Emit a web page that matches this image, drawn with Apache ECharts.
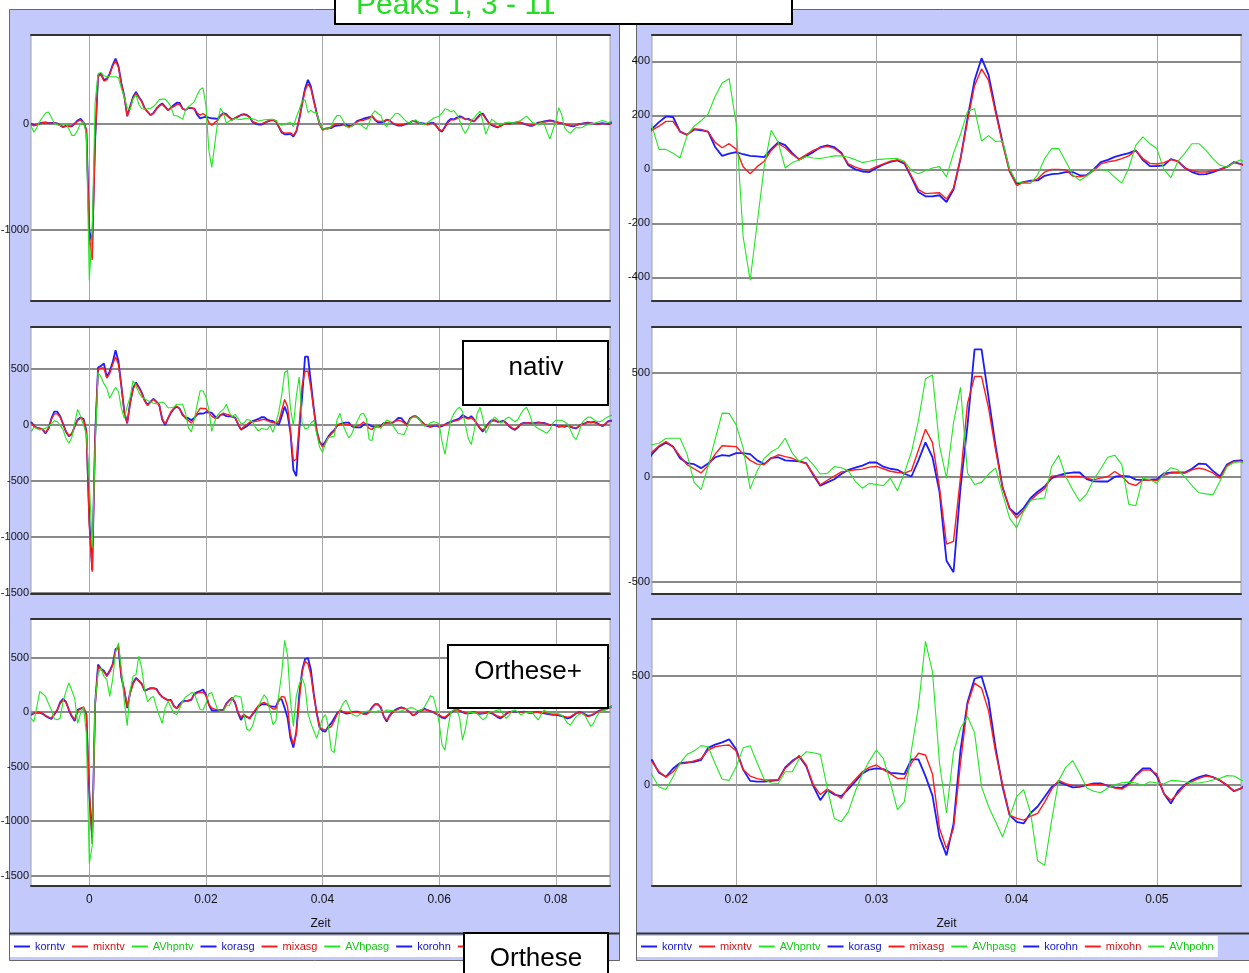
<!DOCTYPE html>
<html>
<head>
<meta charset="utf-8">
<script src="https://cdn.jsdelivr.net/npm/echarts@6/dist/echarts.min.js"></script>
<style>
  html, body { margin: 0; padding: 0; background: #fff; }
  #chart { width: 1249px; height: 973px; }
</style>
</head>
<body>
<div id="chart"></div>
<script>
// Sample times of the recordings: 2 kHz, from -10 ms to 90 ms
const T_START = -0.01, DT = 0.0005, N_SAMPLES = 201;
const zeit = Array.from({ length: N_SAMPLES }, (_, i) => +(T_START + i * DT).toFixed(4));

// ---- nativ ----
const korntv = [
  0,-15,-10,5,10,12,5,8,8,2,
  -15,-30,-20,-25,-25,0,30,45,15,-60,
  -1000,-1130,-150,450,470,410,420,470,550,610,
  540,380,260,70,160,250,297,250,210,145,
  110,80,100,140,170,190,160,125,
  150,175,196,194,140,128,148,145,140,83,
  50,58,64,56,50,48,45,75,100,90,
  60,36,50,64,82,89,82,62,15,0,
  -8,-10,5,18,28,33,21,-30,-84,-100,
  -100,-96,-121,-75,40,190,330,412,350,220,
  100,-4,-53,-47,-42,-41,-24,-18,-16,-10,
  -10,-22,-22,0,27,35,46,54,60,70,
  35,12,12,15,38,30,5,-10,-19,-18,
  -10,0,9,27,19,
  10,5,0,-5,5,10,-20,-60,-75,-30,
  20,45,40,55,70,60,40,45,30,20,
  55,85,95,50,10,-15,-25,-35,-20,-5,
  5,0,5,10,15,10,0,-10,-20,-20,
  -5,10,15,20,25,30,25,15,10,5,
  -5,-15,-20,-25,-15,-5,0,5,10,5,
  0,-5,0,5,0,-5,5,10
];
const mixntv = [
  -10,-20,-10,0,8,10,5,5,5,0,
  -20,-35,-25,-25,-20,0,20,35,10,-60,
  -1050,-1280,-150,440,460,400,410,460,540,590,
  530,370,250,70,150,240,285,245,205,140,
  110,80,95,135,165,180,155,125,
  145,160,178,178,140,128,150,148,140,100,
  80,95,75,10,-16,10,30,70,95,80,
  55,38,55,70,80,85,78,58,20,8,
  0,-2,10,20,30,35,25,-25,-75,-90,
  -88,-87,-110,-70,40,180,310,372,330,210,
  95,-10,-60,-48,-45,-35,-10,0,0,-2,
  -25,-28,-22,-5,20,28,32,40,50,70,
  40,22,20,25,36,30,5,-5,-10,-10,
  -5,0,8,25,20,
  5,0,-5,-10,0,5,-25,-55,-65,-35,
  10,35,35,45,60,55,40,40,25,20,
  45,75,85,45,10,-10,-20,-30,-25,-10,
  0,-5,0,5,10,10,0,-5,-15,-15,
  -5,5,10,15,20,25,20,15,10,5,
  -5,-10,-15,-20,-15,-5,0,5,5,5,
  0,-5,-5,0,0,-5,0,5
];
const AVhpntv = [
  -20,-80,-40,20,60,100,110,60,0,-10,
  -20,0,0,-50,-110,-110,-60,0,20,-100,
  -1470,-1000,200,470,480,450,440,440,440,440,
  430,330,250,150,130,230,270,180,140,135,
  140,145,160,190,225,230,230,200,
  160,74,74,60,42,125,160,180,205,270,
  320,336,170,-250,-411,-200,10,145,100,5,
  25,35,48,42,40,45,50,50,45,36,
  25,30,36,38,40,40,30,-5,-16,-5,
  5,10,-28,60,130,215,225,105,125,103,
  105,0,-47,-52,-52,-20,40,77,77,30,
  -20,-41,-25,0,0,-5,-30,-51,5,90,
  120,95,77,0,-31,30,60,95,95,70,
  40,15,9,25,36,
  10,0,-10,10,30,50,60,70,100,139,
  130,110,123,90,32,-50,-91,-40,30,53,
  90,117,20,-101,-30,43,20,0,-10,0,
  10,15,5,10,20,30,50,70,40,10,
  0,-10,10,0,-80,-144,-60,20,150,90,
  -37,-70,-91,-60,-37,-40,-37,-20,-10,0,
  0,10,20,30,20,10,20,30
];

// ---- asg ----
const korasg = [
  29,-5,-25,-29,-40,-74,-30,60,120,120,
  80,10,-60,-100,-80,-10,50,68,56,-50,
  -838,-1294,-100,515,529,550,430,480,560,668,
  570,350,120,15,200,330,380,340,290,220,
  180,210,235,210,180,50,0,60,
  110,146,165,146,90,67,62,43,65,95,
  105,102,115,115,110,80,62,92,95,80,
  78,75,67,10,-41,-25,-10,15,35,45,
  55,70,70,50,40,35,16,3,80,166,
  95,-70,-400,-455,-50,250,611,611,380,150,
  -50,-150,-180,-148,-100,-70,-45,-5,8,18,
  22,22,-10,-20,-21,-21,2,6,4,-12,
  -14,-12,-10,18,22,22,22,40,65,62,
  30,3,60,78,80,
  60,30,5,-10,-15,-10,-5,-15,-10,5,
  20,30,40,50,60,90,75,60,80,50,
  10,-30,-58,-20,20,43,45,30,30,40,
  20,-10,-30,-43,-20,10,20,20,20,15,
  20,25,20,20,10,0,5,0,-15,-10,
  -15,-5,-15,-25,-29,-10,10,15,29,25,
  29,20,5,-10,10,35,40,40
];
const mixasg = [
  20,-10,-25,-30,-40,-65,-30,50,100,100,
  70,10,-55,-95,-75,-10,45,60,50,-60,
  -900,-1310,-100,500,510,510,420,460,540,610,
  540,340,110,20,190,320,370,330,280,215,
  175,205,230,205,175,60,10,60,
  120,150,170,145,100,60,40,20,55,110,
  150,148,146,110,80,62,60,90,107,98,
  90,75,64,15,-37,-15,5,25,30,35,
  38,48,51,40,28,22,19,32,130,229,
  165,-50,-320,-307,0,353,481,481,330,130,
  -50,-150,-196,-160,-110,-80,-55,5,8,5,
  3,3,-5,-13,-5,3,27,5,-30,-40,
  -13,-15,-16,8,20,22,19,35,43,35,
  20,-5,55,75,75,
  55,25,5,-5,-10,-5,0,-10,-5,5,
  15,25,35,40,50,70,65,55,65,45,
  10,-25,-45,-15,15,35,40,30,25,35,
  15,-5,-25,-35,-15,10,15,20,20,15,
  15,20,20,15,10,0,0,-5,-10,-10,
  -10,-5,-10,-20,-25,-10,5,15,25,20,
  25,15,5,-5,10,30,35,35
];
const AVhpasg = [
  -59,-20,-30,-44,-35,-29,-10,10,40,30,
  0,-40,-120,-162,-110,20,140,80,0,-80,
  -500,-1100,-200,470,430,370,330,240,290,338,
  300,150,60,170,250,397,350,290,250,235,
  220,206,195,191,200,206,190,155,
  155,162,186,186,186,110,-25,-60,50,180,
  306,305,250,140,-56,30,90,120,140,186,
  115,75,96,60,15,18,50,45,30,-20,
  -53,-30,-35,-41,-5,-65,20,120,270,470,
  489,150,-5,260,430,20,-35,-25,15,43,
  -80,-196,-244,-164,-110,-105,-100,51,104,3,
  -60,-115,-80,-10,40,95,105,60,-130,-137,
  -5,-12,-29,15,45,35,0,-40,-75,-80,
  -84,-20,50,70,75,
  60,20,-10,0,20,30,25,10,-150,-261,
  -100,43,100,140,160,120,0,-120,-174,-50,
  100,160,60,-72,-20,40,72,50,20,30,
  60,72,50,30,50,100,140,160,100,20,
  -14,-30,-43,-60,-72,-40,20,43,43,43,
  30,10,-40,-100,-130,-60,20,50,72,70,
  50,35,30,40,60,75,87,87
];

// ---- ohn ----
const korohn = [
  -25,-10,-3,-5,-15,-35,-50,-62,-20,20,
  90,123,95,20,-40,-80,20,35,40,-20,
  -763,-1150,80,437,400,380,335,380,440,580,
  590,320,200,37,180,270,314,290,260,195,
  210,222,222,215,170,140,125,110,
  114,55,37,75,100,103,105,114,170,185,
  195,209,163,70,18,14,14,18,22,80,
  110,130,85,-5,-71,-25,-45,-52,-20,15,
  52,70,75,72,55,52,49,117,117,40,
  -50,-240,-325,-180,160,380,488,498,390,170,
  -10,-140,-171,-178,-130,-100,-55,-10,12,0,
  -12,-10,-2,6,6,-5,-12,-14,5,45,
  75,75,40,-40,-86,-30,0,22,35,45,
  35,20,-2,-30,-17,
  10,20,30,20,10,0,-15,-30,-50,-56,
  -30,-5,15,22,15,0,-10,-10,-5,0,
  -9,-15,-10,-5,0,-10,-25,-45,-56,-40,
  -15,0,5,5,0,0,5,0,-5,-5,
  0,0,-5,-10,-15,-20,-25,-25,-30,-35,
  -45,-56,-50,-30,-10,0,-5,-20,-34,-30,
  -20,0,15,22,30,40,53,55
];
const mixohn = [
  -20,-10,0,0,-10,-30,-45,-55,-15,20,
  80,110,90,25,-30,-70,15,30,50,-20,
  -700,-1210,60,420,390,370,330,370,430,560,
  610,330,210,50,170,260,305,285,255,200,
  210,215,220,210,170,140,125,110,
  106,60,35,60,96,100,110,120,160,175,
  180,183,155,70,40,28,22,22,22,75,
  105,135,90,0,-45,-20,-40,-63,-10,25,
  60,80,91,70,50,29,29,100,145,137,
  50,-200,-294,-200,100,370,468,445,340,150,
  0,-140,-155,-163,-145,-132,-80,-20,20,5,
  -3,-6,0,2,0,-3,-15,-20,0,40,
  68,68,50,-40,-71,-40,-2,15,29,40,
  35,20,-2,-28,-17,
  5,15,25,20,10,0,-10,-25,-40,-45,
  -25,0,15,20,15,5,-5,-10,-5,0,
  -5,-10,-10,-5,0,-5,-20,-35,-45,-35,
  -10,0,5,5,5,0,5,0,-5,0,
  0,0,-5,-5,-10,-15,-20,-20,-25,-30,
  -40,-45,-40,-25,-10,-5,-10,-25,-40,-30,
  -15,0,10,20,25,35,45,50
];
const AVhpohn = [
  -55,-86,50,191,170,145,80,20,-60,-70,
  -55,100,191,268,200,129,-102,-9,50,-200,
  -1390,-1225,100,350,406,330,300,145,300,550,
  637,400,100,-123,200,330,345,514,400,200,
  98,130,145,52,-30,-102,37,100,
  45,-10,-22,37,100,140,155,180,175,98,
  25,20,83,170,180,100,25,8,6,60,
  60,120,152,147,140,-15,-155,-170,-125,-30,
  50,110,160,120,10,-114,-78,160,360,660,
  520,100,-130,150,260,314,240,-10,-100,-170,
  -240,-148,-55,-22,-130,-350,-371,-163,20,80,
  111,52,-15,-30,-37,-15,0,9,12,8,
  -3,14,8,5,20,18,14,8,8,14,
  22,30,42,40,22,
  10,20,50,99,150,140,40,-100,-300,-350,
  -150,0,22,22,-50,-257,-150,0,0,-5,
  -10,-40,-71,-50,0,5,10,20,22,-20,
  -56,-30,10,20,0,-25,-10,0,0,-5,
  -40,-71,-20,20,5,-5,-10,-10,-15,-30,
  -60,-100,-118,-80,-40,-20,-10,-30,-80,-130,
  -100,-40,0,10,20,40,53,55
];

// Tick values
const xTicksFull = [0, 0.02, 0.04, 0.06, 0.08];
const xTicksZoom = [0.02, 0.03, 0.04, 0.05];
const yTicksNtvFull = [-1000, 0];
const yTicksNtvZoom = [-400, -200, 0, 200, 400];
const yTicksAsgFull = [-1500, -1000, -500, 0, 500];
const yTicksAsgZoom = [-500, 0, 500];
const yTicksOhnFull = [-1500, -1000, -500, 0, 500];
const yTicksOhnZoom = [0, 500];

const legendNames = ['korntv','mixntv','AVhpntv','korasg','mixasg','AVhpasg','korohn','mixohn','AVhpohn'];

// ---- styling ----
const BLUE = '#1c1cff', RED = '#ff1c1c', GREEN = '#22e622';
const BLUE_TXT = '#1414c8', RED_TXT = '#d01414', GREEN_TXT = '#14c814';
const PANEL_FILL = '#c3c9fa';
const LABEL_FONT = '"Liberation Sans Narrow","Liberation Sans", Arial, sans-serif';
const ARIAL = '"Liberation Sans", Arial, sans-serif';

const groups = [
  { names: ['korntv', 'mixntv', 'AVhpntv'], values: [korntv, mixntv, AVhpntv] },
  { names: ['korasg', 'mixasg', 'AVhpasg'], values: [korasg, mixasg, AVhpasg] },
  { names: ['korohn', 'mixohn', 'AVhpohn'], values: [korohn, mixohn, AVhpohn] }
];
const lineColors = [BLUE, RED, GREEN];
const lineWidths = [1.8, 1.4, 1.1];

const LEFT_X = [-0.01, 0.0893], RIGHT_X = [0.014, 0.056];
const panels = [
  { rect: [31, 35, 579, 266],  x: LEFT_X,  y: [-1665, 832], xt: xTicksFull, yt: yTicksNtvFull, g: 0, xl: false },
  { rect: [31, 327, 579, 267], x: LEFT_X,  y: [-1508, 876], xt: xTicksFull, yt: yTicksAsgFull, g: 1, xl: false },
  { rect: [31, 619, 579, 267], x: LEFT_X,  y: [-1596, 856], xt: xTicksFull, yt: yTicksOhnFull, g: 2, xl: true },
  { rect: [652, 35, 589, 266], x: RIGHT_X, y: [-488, 498],  xt: xTicksZoom, yt: yTicksNtvZoom, g: 0, xl: false },
  { rect: [652, 327, 589, 267], x: RIGHT_X, y: [-559, 718], xt: xTicksZoom, yt: yTicksAsgZoom, g: 1, xl: false },
  { rect: [652, 619, 589, 267], x: RIGHT_X, y: [-466, 763], xt: xTicksZoom, yt: yTicksOhnZoom, g: 2, xl: true }
];

const grid = [], xAxis = [], yAxis = [], series = [];
panels.forEach((p, i) => {
  const [left, top, width, height] = p.rect;
  grid.push({ left, top, width, height, show: true, backgroundColor: '#fff',
              borderColor: '#a0a0a0', borderWidth: 1,
              containLabel: false, outerBoundsMode: 'none' });
  xAxis.push({
    type: 'value', gridIndex: i, min: p.x[0], max: p.x[1], position: 'bottom',
    axisLine: { show: true, onZero: false, lineStyle: { color: '#333', width: 2 } },
    axisTick: { show: false, customValues: p.xt },
    axisLabel: { show: p.xl, customValues: p.xt, formatter: v => String(v), margin: 8,
                 fontFamily: LABEL_FONT, fontSize: 12, color: '#111' },
    splitLine: { show: true, lineStyle: { color: '#a8a8a8', width: 1 } },
    name: p.xl ? 'Zeit' : '', nameLocation: 'middle', nameGap: 32,
    nameTextStyle: { fontFamily: LABEL_FONT, fontSize: 12, color: '#111' }
  });
  xAxis.push({
    type: 'value', gridIndex: i, min: p.x[0], max: p.x[1], position: 'top',
    axisLine: { show: true, onZero: false, lineStyle: { color: '#333', width: 2 } },
    axisTick: { show: false }, axisLabel: { show: false }, splitLine: { show: false }
  });
  yAxis.push({
    type: 'value', gridIndex: i, min: p.y[0], max: p.y[1],
    axisLine: { show: false },
    axisTick: { show: false, customValues: p.yt },
    axisLabel: { customValues: p.yt, formatter: v => String(v), margin: 2,
                 fontFamily: LABEL_FONT, fontSize: 11, color: '#111' },
    splitLine: { show: true, lineStyle: { color: '#8a8a8a', width: 2 } }
  });
  const grp = groups[p.g];
  grp.names.forEach((name, s) => {
    series.push({
      type: 'line', name, xAxisIndex: 2 * i, yAxisIndex: i,
      data: zeit.map((t, k) => [t, grp.values[s][k]]),
      showSymbol: false, symbol: 'none', silent: true,
      color: lineColors[s],
      lineStyle: { color: lineColors[s], width: lineWidths[s] },
      z: 2 + s
    });
  });
});

const txtColor = n => n.startsWith('kor') ? BLUE_TXT : (n.startsWith('mix') ? RED_TXT : GREEN_TXT);
const legendData = legendNames.map(n => ({ name: n, textStyle: { color: txtColor(n) } }));
const legendBase = {
  top: 936, width: 610, orient: 'horizontal', icon: 'rect', itemWidth: 16, itemHeight: 2, itemGap: 7,
  selectedMode: false, backgroundColor: '#fff', padding: [5, 4],
  textStyle: { fontFamily: LABEL_FONT, fontSize: 11 },
  data: legendData
};

function textBox(x, y, w, h, label, cx, cy, size, color) {
  return [
    { type: 'rect', z: 50, silent: true, shape: { x, y, width: w, height: h },
      style: { fill: '#fff', stroke: '#000', lineWidth: 2 } },
    { type: 'text', z: 51, silent: true,
      style: { text: label, x: cx, y: cy, fill: color, font: size + 'px ' + ARIAL,
               align: 'center', verticalAlign: 'middle', textAlign: 'center', textVerticalAlign: 'middle' } }
  ];
}

const graphic = [
  { type: 'rect', z: -10, silent: true, shape: { x: 9.5, y: 9.5, width: 610, height: 951 },
    style: { fill: PANEL_FILL, stroke: '#666', lineWidth: 1 } },
  { type: 'rect', z: -10, silent: true, shape: { x: 636.5, y: 9.5, width: 620, height: 951 },
    style: { fill: PANEL_FILL, stroke: '#666', lineWidth: 1 } },
  { type: 'line', z: -9, silent: true, shape: { x1: 9.5, y1: 933.5, x2: 619.5, y2: 933.5 },
    style: { stroke: '#333', lineWidth: 2 } },
  { type: 'line', z: -9, silent: true, shape: { x1: 636.5, y1: 933.5, x2: 1249, y2: 933.5 },
    style: { stroke: '#333', lineWidth: 2 } },
  { type: 'rect', z: 50, silent: true, shape: { x: 335, y: -5, width: 457, height: 29 },
    style: { fill: '#fff', stroke: '#000', lineWidth: 2 } },
  { type: 'text', z: 51, silent: true,
    style: { text: 'Peaks 1, 3 - 11', x: 356, y: 6, fill: '#22dd22', font: '30px ' + ARIAL,
             align: 'left', verticalAlign: 'middle', textAlign: 'left', textVerticalAlign: 'middle' } },
  ...textBox(463, 341, 145, 64, 'nativ', 536, 368, 26, '#000'),
  ...textBox(448, 645, 160, 63, 'Orthese+', 528, 672, 26, '#000'),
  ...textBox(464, 933, 144, 46, 'Orthese', 536, 959, 26, '#000')
];

const chart = echarts.init(document.getElementById('chart'), null, { renderer: 'canvas' });
chart.setOption({
  animation: false,
  backgroundColor: '#fff',
  grid, xAxis, yAxis, series,
  legend: [
    Object.assign({}, legendBase, { left: 10 }),
    Object.assign({}, legendBase, { left: 637 })
  ],
  graphic
});
</script>
</body>
</html>
